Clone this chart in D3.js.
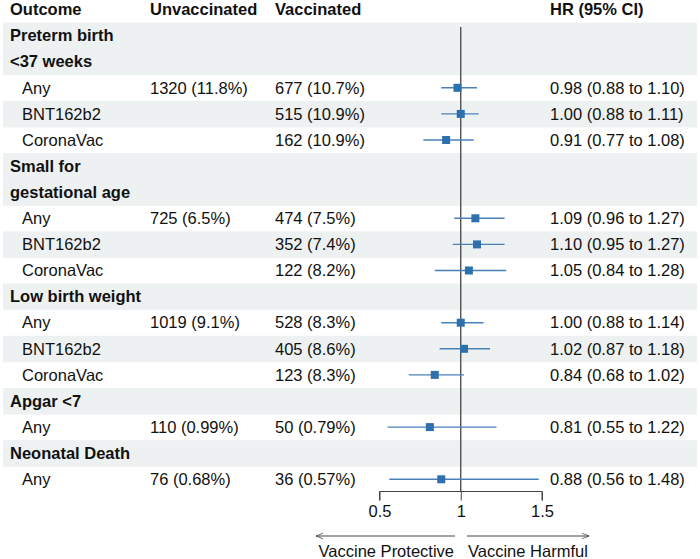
<!DOCTYPE html>
<html><head><meta charset="utf-8">
<script src="https://cdn.jsdelivr.net/npm/d3@7/dist/d3.min.js"></script>
<style>
html,body{margin:0;padding:0;background:#fff;}
text{font-family:"Liberation Sans",Arial,Helvetica,sans-serif;fill:#111;}
</style></head>
<body>
<script>
const headings = [["Preterm birth", "<37 weeks"], ["Small for", "gestational age"], ["Low birth weight"], ["Apgar <7"], ["Neonatal Death"]];
const rowGroup = [0, 0, 0, 1, 1, 1, 2, 2, 2, 3, 4];
const subgroup = ["Any", "BNT162b2", "CoronaVac", "Any", "BNT162b2", "CoronaVac", "Any", "BNT162b2", "CoronaVac", "Any", "Any"];
const unvaccinated = ["1320 (11.8%)", "", "", "725 (6.5%)", "", "", "1019 (9.1%)", "", "", "110 (0.99%)", "76 (0.68%)"];
const vaccinated = ["677 (10.7%)", "515 (10.9%)", "162 (10.9%)", "474 (7.5%)", "352 (7.4%)", "122 (8.2%)", "528 (8.3%)", "405 (8.6%)", "123 (8.3%)", "50 (0.79%)", "36 (0.57%)"];
const hr = [0.98, 1.00, 0.91, 1.09, 1.10, 1.05, 1.00, 1.02, 0.84, 0.81, 0.88];
const ciLow = [0.88, 0.88, 0.77, 0.96, 0.95, 0.84, 0.88, 0.87, 0.68, 0.55, 0.56];
const ciHigh = [1.10, 1.11, 1.08, 1.27, 1.27, 1.28, 1.14, 1.18, 1.02, 1.22, 1.48];
const xTicks = [0.5, 1, 1.5];
const columnTitles = ["Outcome", "Unvaccinated", "Vaccinated", "HR (95% CI)"];
const arrowLabels = ["Vaccine Protective", "Vaccine Harmful"];

const W = 700, H = 559;
const svg = d3.select("body").append("svg").attr("width", W).attr("height", H);

// build row layout
const rows = [];
rows.push({type: "header"});
let last = -1;
rowGroup.forEach((g, i) => {
  if (g !== last) {
    headings[g].forEach((line, k) => rows.push({type: "heading", text: line}));
    last = g;
  }
  rows.push({type: "data", i});
});

const y0 = 9.5, step = 26.1;
const yPos = idx => y0 + idx * step;

const x = d3.scaleLinear().domain([0.5, 1.5]).range([379.5, 542]);
const colX = [10, 150, 275, 550];
const fs = 16.5;

// bands
rows.forEach((r, idx) => {
  let grey = false;
  if (r.type === "heading") grey = true;
  if (r.type === "data" && subgroup[r.i] === "BNT162b2") grey = true;
  if (grey) {
    svg.append("rect").attr("x", 3).attr("width", 694)
      .attr("y", yPos(idx) - step / 2).attr("height", step + 0.5)
      .attr("fill", "#eef1f1");
  }
});

// header
columnTitles.forEach((t, k) => {
  svg.append("text").attr("x", colX[k]).attr("y", yPos(0)).attr("dy", "0.35em")
    .attr("font-size", fs).attr("font-weight", "bold").text(t);
});

// reference line
const axisY = 491.5;
svg.append("line").attr("x1", x(1)).attr("x2", x(1)).attr("y1", 27).attr("y2", axisY)
  .attr("stroke", "#444").attr("stroke-width", 1.3);

// rows text and marks
rows.forEach((r, idx) => {
  const yy = yPos(idx);
  if (r.type === "heading") {
    svg.append("text").attr("x", colX[0]).attr("y", yy).attr("dy", "0.35em")
      .attr("font-size", fs).attr("font-weight", "bold").text(r.text);
  } else if (r.type === "data") {
    const i = r.i;
    svg.append("text").attr("x", 22).attr("y", yy).attr("dy", "0.35em").attr("font-size", fs).text(subgroup[i]);
    svg.append("text").attr("x", colX[1]).attr("y", yy).attr("dy", "0.35em").attr("font-size", fs).text(unvaccinated[i]);
    svg.append("text").attr("x", colX[2]).attr("y", yy).attr("dy", "0.35em").attr("font-size", fs).text(vaccinated[i]);
    svg.append("text").attr("x", colX[3]).attr("y", yy).attr("dy", "0.35em").attr("font-size", fs)
      .text(`${hr[i].toFixed(2)} (${ciLow[i].toFixed(2)} to ${ciHigh[i].toFixed(2)})`);
    svg.append("line").attr("x1", x(ciLow[i])).attr("x2", x(ciHigh[i])).attr("y1", yy).attr("y2", yy)
      .attr("stroke", "#4a80b8").attr("stroke-width", 1.4);
    const s = 8;
    svg.append("rect").attr("x", x(hr[i]) - s / 2).attr("y", yy - s / 2).attr("width", s).attr("height", s)
      .attr("fill", "#2e6fae");
  }
});

// axis
const axis = d3.axisBottom(x).tickValues(xTicks).tickFormat(d3.format("")).tickSize(9).tickPadding(5);
const ag = svg.append("g").attr("transform", `translate(0,${axisY})`).call(axis);
ag.select(".domain").attr("stroke", "#444").attr("d", `M${x(0.5)},9V0H${x(1.5)}V9`);
ag.selectAll(".tick line").attr("stroke", "#444");
ag.selectAll(".tick text").attr("font-size", fs).attr("fill", "#111")
  .attr("font-family", "Liberation Sans, Arial, sans-serif");

// arrows
const arrY = 536;
const defs = svg.append("defs");
defs.append("marker").attr("id", "ah").attr("viewBox", "0 0 10 10").attr("refX", 10).attr("refY", 5)
  .attr("markerWidth", 7).attr("markerHeight", 7).attr("orient", "auto-start-reverse")
  .attr("markerUnits", "userSpaceOnUse")
  .append("path").attr("d", "M0,1L10,5L0,9").attr("fill", "none").attr("stroke", "#333").attr("stroke-width", 1);
svg.append("line").attr("x1", 455).attr("x2", 316).attr("y1", arrY).attr("y2", arrY)
  .attr("stroke", "#333").attr("stroke-width", 0.9).attr("marker-end", "url(#ah)");
svg.append("line").attr("x1", 467).attr("x2", 589).attr("y1", arrY).attr("y2", arrY)
  .attr("stroke", "#333").attr("stroke-width", 0.9).attr("marker-end", "url(#ah)");
svg.append("text").attr("x", 454).attr("y", 551.5).attr("dy", "0.35em").attr("text-anchor", "end")
  .attr("font-size", fs).text(arrowLabels[0]);
svg.append("text").attr("x", 468).attr("y", 551.5).attr("dy", "0.35em")
  .attr("font-size", fs).text(arrowLabels[1]);
</script>
</body></html>
